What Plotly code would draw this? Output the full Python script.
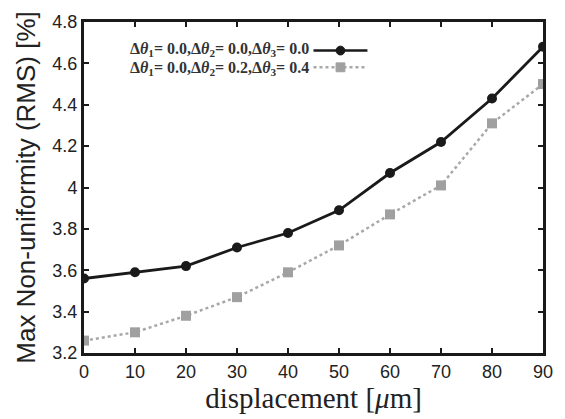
import plotly.graph_objects as go

displacement = [0, 10, 20, 30, 40, 50, 60, 70, 80, 90]
nonuni_a = [3.56, 3.59, 3.62, 3.71, 3.78, 3.89, 4.07, 4.22, 4.43, 4.68]
nonuni_b = [3.26, 3.30, 3.38, 3.47, 3.59, 3.72, 3.87, 4.01, 4.31, 4.50]
label_a = "Δ<i>θ</i><sub>1</sub>= 0.0,Δ<i>θ</i><sub>2</sub>= 0.0,Δ<i>θ</i><sub>3</sub>= 0.0"
label_b = "Δ<i>θ</i><sub>1</sub>= 0.0,Δ<i>θ</i><sub>2</sub>= 0.2,Δ<i>θ</i><sub>3</sub>= 0.4"
y_ticks = [3.2, 3.4, 3.6, 3.8, 4.0, 4.2, 4.4, 4.6, 4.8]
y_ticktext = ["3.2", "3.4", "3.6", "3.8", "4", "4.2", "4.4", "4.6", "4.8"]
x_ticks = [0, 10, 20, 30, 40, 50, 60, 70, 80, 90]

fig = go.Figure()
fig.add_trace(go.Scatter(x=displacement, y=nonuni_b, mode="lines+markers",
                         line=dict(color="#a8a8a8", width=2.5, dash="dot"),
                         marker=dict(symbol="square", size=10, color="#a0a0a0"),
                         showlegend=False))
fig.add_trace(go.Scatter(x=displacement, y=nonuni_a, mode="lines+markers",
                         line=dict(color="#1a1a1a", width=2.8),
                         marker=dict(symbol="circle", size=10, color="#1a1a1a"),
                         showlegend=False))

serif = "Liberation Serif, DejaVu Serif, serif"
sans = "Liberation Sans, Arial, sans-serif"

# legend-like labels
fig.add_annotation(xref="paper", yref="paper", x=(315-84)/468, y=(353-45)/336,
                   text="<b>" + label_a + "</b>", showarrow=False, xanchor="right", yanchor="middle",
                   font=dict(family=serif, size=16, color="#333"))
fig.add_annotation(xref="paper", yref="paper", x=(315-84)/468, y=(353-64)/336,
                   text="<b>" + label_b + "</b>", showarrow=False, xanchor="right", yanchor="middle",
                   font=dict(family=serif, size=16, color="#333"))
# legend samples
fig.add_shape(type="line", xref="paper", yref="paper",
              x0=(318-84)/468, x1=(373-84)/468, y0=(353-46)/336, y1=(353-46)/336,
              line=dict(color="#1a1a1a", width=2.5))
fig.add_shape(type="circle", xref="paper", yref="paper",
              x0=(341-84)/468, x1=(350-84)/468, y0=(353-50.5)/336, y1=(353-41.5)/336,
              fillcolor="#1a1a1a", line=dict(color="#1a1a1a", width=1))
fig.add_shape(type="line", xref="paper", yref="paper",
              x0=(318-84)/468, x1=(373-84)/468, y0=(353-63)/336, y1=(353-63)/336,
              line=dict(color="#a8a8a8", width=2.5, dash="dot"))
fig.add_shape(type="rect", xref="paper", yref="paper",
              x0=(341-84)/468, x1=(350-84)/468, y0=(353-67.5)/336, y1=(353-58.5)/336,
              fillcolor="#a0a0a0", line=dict(color="#a0a0a0", width=1))

fig.update_layout(
    width=565, height=419,
    margin=dict(l=84, r=13, t=17, b=66),
    paper_bgcolor="white", plot_bgcolor="white",
    xaxis=dict(range=[0, 90], tickvals=x_ticks, ticks="inside", ticklen=5, tickwidth=2,
               tickcolor="#1a1a1a", showline=True, linecolor="#1a1a1a", linewidth=3,
               mirror="ticks", showgrid=False, zeroline=False,
               tickfont=dict(family=sans, size=18, color="#222"),
               title=dict(text="displacement [<i>μ</i>m]", standoff=2,
                          font=dict(family=serif, size=29, color="#222"))),
    yaxis=dict(range=[3.2, 4.8], tickvals=y_ticks, ticktext=y_ticktext, ticks="inside",
               ticklen=5, tickwidth=2, tickcolor="#1a1a1a", showline=True,
               linecolor="#1a1a1a", linewidth=3, mirror="ticks", showgrid=False,
               zeroline=False,
               tickfont=dict(family=sans, size=18, color="#222"),
               title=dict(text="Max Non-uniformity (RMS) [%]", standoff=10,
                          font=dict(family=sans, size=26, color="#222"))),
)

fig.write_html("out.html")
